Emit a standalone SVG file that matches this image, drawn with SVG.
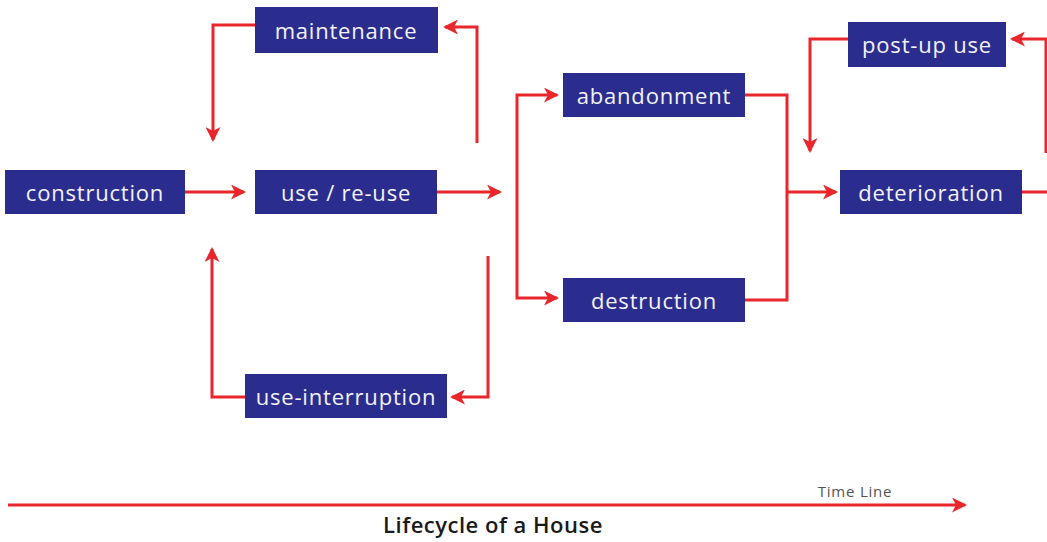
<svg xmlns="http://www.w3.org/2000/svg" width="1047" height="542" viewBox="0 0 1047 542">
<style>
.box{fill:#2b2d8e}
.lbl{font-family:"Open Sans","Liberation Sans",sans-serif;font-size:22px;letter-spacing:0.8px;fill:#f2f2f8;text-anchor:middle;dominant-baseline:central}
.c{fill:none;stroke:#e8262b;stroke-width:3}
.a{marker-end:url(#ah)}
</style>
<defs>
<marker id="ah" viewBox="0 0 15 15" refX="13" refY="7.5" markerWidth="15" markerHeight="15" markerUnits="userSpaceOnUse" orient="auto">
<path d="M0,0 L15,7.5 L0,15 L4,7.5 z" fill="#e8262b"/>
</marker>
</defs>
<rect width="1047" height="542" fill="#ffffff"/>
<g id="connectors">
<path class="c a" d="M185,192 H244"/>
<path class="c a" d="M437,192 H500"/>
<path class="c a" d="M477,143 V27 H445"/>
<path class="c a" d="M255,25 H213 V140"/>
<path class="c a" d="M245,397 H212 V249"/>
<path class="c a" d="M488,256 V397 H452"/>
<path class="c a" d="M517,192 V95 H557"/>
<path class="c a" d="M517,192 V298 H557"/>
<path class="c" d="M745,95 H787 V300 H745"/>
<path class="c a" d="M787,192 H836"/>
<path class="c a" d="M848,39 H810 V151"/>
<path class="c" d="M1022,192 H1047"/>
<path class="c a" d="M1046,153 V39 H1012"/>
<path class="c a" d="M8,505 H965"/>
</g>
<g id="maintenance"><rect class="box" x="255" y="7" width="183" height="46"/><text class="lbl" x="346" y="30">maintenance</text></g>
<g id="construction"><rect class="box" x="5" y="170" width="180" height="44"/><text class="lbl" x="95" y="192">construction</text></g>
<g id="use-reuse"><rect class="box" x="255" y="170" width="182" height="44"/><text class="lbl" x="346" y="192">use / re-use</text></g>
<g id="use-interruption"><rect class="box" x="245" y="374" width="202" height="44"/><text class="lbl" x="346" y="396">use-interruption</text></g>
<g id="abandonment"><rect class="box" x="563" y="73" width="182" height="44"/><text class="lbl" x="654" y="95">abandonment</text></g>
<g id="destruction"><rect class="box" x="563" y="278" width="182" height="44"/><text class="lbl" x="654" y="300">destruction</text></g>
<g id="post-up-use"><rect class="box" x="848" y="22" width="158" height="45"/><text class="lbl" x="927" y="44">post-up use</text></g>
<g id="deterioration"><rect class="box" x="840" y="170" width="182" height="44"/><text class="lbl" x="931" y="192">deterioration</text></g>
<text x="855" y="497" font-family="'Open Sans','Liberation Sans',sans-serif" font-size="15" letter-spacing="0.8" fill="#555" text-anchor="middle">Time Line</text>
<text x="493" y="533" font-family="'Open Sans','Liberation Sans',sans-serif" font-size="22" letter-spacing="0.5" fill="#1a1a1a" text-anchor="middle" font-weight="600">Lifecycle of a House</text>
</svg>
